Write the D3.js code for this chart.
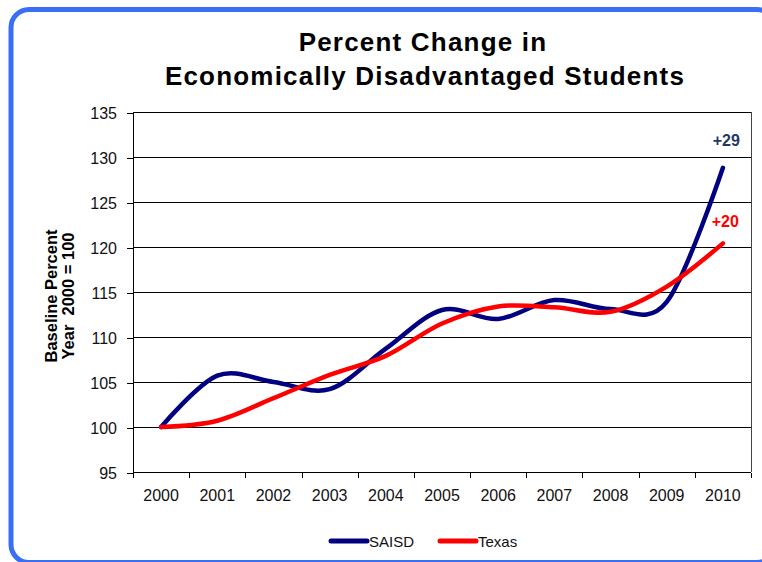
<!DOCTYPE html>
<html>
<head>
<meta charset="utf-8">
<script src="https://cdn.jsdelivr.net/npm/d3@7"></script>
<style>
  body { margin: 0; background: #fff; }
  svg { font-family: "Liberation Sans", Arial, sans-serif; display: block; }
</style>
</head>
<body>
<script>
// Percent change in economically disadvantaged students, year 2000 = 100

var width = 762;
var height = 562;

var years = ["2000", "2001", "2002", "2003", "2004", "2005", "2006", "2007", "2008", "2009", "2010"];
var saisd = [100, 105.7, 105.0, 104.2, 108.7, 113.0, 112.0, 114.1, 113.1, 113.9, 128.8];
var texas = [100, 100.7, 103.2, 105.8, 107.9, 111.5, 113.4, 113.3, 112.8, 115.6, 120.4];
var yTicks = [95, 100, 105, 110, 115, 120, 125, 130, 135];

var plot = {left: 133, right: 751, top: 112, bottom: 472};

var svg = d3.select("body")
  .append("svg")
  .attr("width", width)
  .attr("height", height);

// rounded blue frame, cut off at the right and bottom edges
svg.append("rect")
  .attr("x", 11)
  .attr("y", 9.5)
  .attr("width", 764)
  .attr("height", 553)
  .attr("rx", 18)
  .attr("fill", "none")
  .attr("stroke", "#3a6ff5")
  .attr("stroke-width", 5);

var xScale = d3.scaleBand()
  .domain(years)
  .range([plot.left, plot.right]);

var yScale = d3.scaleLinear()
  .domain([95, 135])
  .range([plot.bottom, plot.top]);

// gridlines
svg.append("g")
  .attr("shape-rendering", "crispEdges")
  .selectAll("line")
  .data(yTicks)
  .enter()
  .append("line")
  .attr("x1", plot.left)
  .attr("x2", plot.right)
  .attr("y1", function(d){ return yScale(d) + 0.5; })
  .attr("y2", function(d){ return yScale(d) + 0.5; })
  .attr("stroke", "#000")
  .attr("stroke-width", 1);

// right border of plot
svg.append("line")
  .attr("shape-rendering", "crispEdges")
  .attr("x1", plot.right + 0.5).attr("x2", plot.right + 0.5)
  .attr("y1", plot.top).attr("y2", plot.bottom)
  .attr("stroke", "#444");

var yAxis = d3.axisLeft(yScale)
  .tickValues(yTicks)
  .tickSize(6)
  .tickPadding(10);

var yg = svg.append("g")
  .attr("transform", "translate(" + plot.left + ",0.5)")
  .attr("shape-rendering", "crispEdges")
  .call(yAxis);
yg.select(".domain").attr("stroke", "#000");
yg.selectAll("text")
  .attr("font-size", 16)
  .attr("fill", "#111")
  .attr("font-family", "inherit")
  .attr("dy", "0.36em");

// x axis: ticks between categories
var xg = svg.append("g")
  .attr("transform", "translate(0," + (plot.bottom + 0.5) + ")");
xg.append("line")
  .attr("shape-rendering", "crispEdges")
  .attr("x1", plot.left).attr("x2", plot.right)
  .attr("stroke", "#000");
var bounds = years.map(function(d){ return Math.round(xScale(d)) + 0.5; }).concat([plot.right + 0.5]);
xg.selectAll(".tk")
  .data(bounds)
  .enter()
  .append("line")
  .attr("class", "tk")
  .attr("shape-rendering", "crispEdges")
  .attr("x1", function(d){ return d; })
  .attr("x2", function(d){ return d; })
  .attr("y1", 0)
  .attr("y2", 5)
  .attr("stroke", "#000");
xg.selectAll("text")
  .data(years)
  .enter()
  .append("text")
  .attr("x", function(d){ return xScale(d) + xScale.bandwidth() / 2; })
  .attr("y", 28)
  .attr("text-anchor", "middle")
  .attr("font-size", 16)
  .attr("fill", "#111")
  .text(function(d){ return d; });

// lines
var line = d3.line()
  .x(function(d, i){ return xScale(years[i]) + xScale.bandwidth() / 2; })
  .y(function(d){ return yScale(d); })
  .curve(d3.curveCardinal.tension(0));

svg.append("path")
  .datum(saisd)
  .attr("d", line)
  .attr("fill", "none")
  .attr("stroke", "#000080")
  .attr("stroke-width", 4.5)
  .attr("stroke-linecap", "round");

svg.append("path")
  .datum(texas)
  .attr("d", line)
  .attr("fill", "none")
  .attr("stroke", "#ff0000")
  .attr("stroke-width", 4.5)
  .attr("stroke-linecap", "round");

// end labels
var lastX = xScale(years[years.length - 1]) + xScale.bandwidth() / 2;
svg.append("text")
  .attr("x", lastX + 17)
  .attr("y", yScale(saisd[saisd.length - 1]) - 22)
  .attr("text-anchor", "end")
  .attr("font-size", 16)
  .attr("font-weight", "bold")
  .attr("fill", "#1f3864")
  .text("+29");
svg.append("text")
  .attr("x", lastX + 16)
  .attr("y", yScale(texas[texas.length - 1]) - 16)
  .attr("text-anchor", "end")
  .attr("font-size", 16)
  .attr("font-weight", "bold")
  .attr("fill", "#ff0000")
  .text("+20");

// title
var title = svg.append("text")
  .attr("text-anchor", "middle")
  .attr("font-size", 26)
  .attr("font-weight", "bold")
  .attr("letter-spacing", 1.2)
  .attr("fill", "#000");
title.append("tspan").attr("x", 423).attr("y", 51).text("Percent Change in");
title.append("tspan").attr("x", 425).attr("y", 85).text("Economically Disadvantaged Students");

// y axis title
var ylab = svg.append("text")
  .attr("transform", "translate(0,296) rotate(-90)")
  .attr("text-anchor", "middle")
  .attr("font-size", 16.5)
  .attr("font-weight", "bold")
  .attr("fill", "#000");
ylab.append("tspan").attr("x", 0).attr("y", 57).text("Baseline Percent");
ylab.append("tspan").attr("x", 0).attr("y", 74).attr("xml:space", "preserve").text("Year  2000 = 100");

// legend
var legendItems = [
  {name: "SAISD", color: "#000080", x: 331},
  {name: "Texas", color: "#ff0000", x: 440}
];
var lg = svg.append("g");
lg.selectAll("line")
  .data(legendItems)
  .enter()
  .append("line")
  .attr("x1", function(d){ return d.x; })
  .attr("x2", function(d){ return d.x + 36; })
  .attr("y1", 541)
  .attr("y2", 541)
  .attr("stroke", function(d){ return d.color; })
  .attr("stroke-width", 5)
  .attr("stroke-linecap", "round");
lg.selectAll("text")
  .data(legendItems)
  .enter()
  .append("text")
  .attr("x", function(d){ return d.x + 38; })
  .attr("y", 547)
  .attr("font-size", 15)
  .attr("fill", "#111")
  .text(function(d){ return d.name; });
</script>
</body>
</html>
